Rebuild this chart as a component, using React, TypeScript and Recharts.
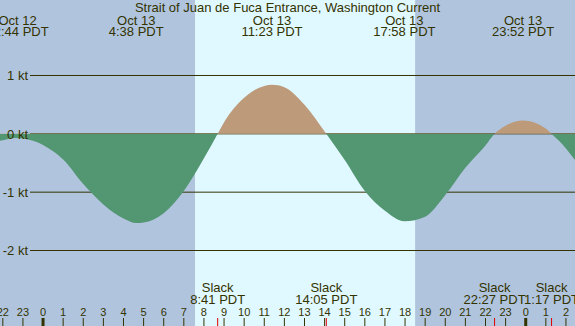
import {
  Area,
  ComposedChart,
  ReferenceArea,
  ReferenceLine,
  XAxis,
  YAxis,
} from "recharts";

const TITLE = "Strait of Juan de Fuca Entrance, Washington Current";

// hours since Oct 13 00:00 PDT, current speed in knots (flood +, ebb -)
const sampleHours = [
  -2.14, -2, -1.35, -1, -0.5, 0, 0.5, 1, 2, 3, 4, 4.633, 5, 6, 7, 8, 8.683, 9, 10, 11,
  11.383, 12, 13, 14.083, 15, 16, 17, 17.967, 19, 20, 21, 22, 22.45, 23, 23.867, 25,
  25.283, 26, 26.45,
];
const speedKt = [
  -0.12, -0.11, -0.07, -0.08, -0.12, -0.19, -0.3, -0.44, -0.86, -1.21, -1.45, -1.53,
  -1.52, -1.36, -0.98, -0.42, 0, 0.2, 0.62, 0.82, 0.84, 0.8, 0.5, 0, -0.45, -0.98, -1.32,
  -1.5, -1.42, -1.05, -0.58, -0.2, 0, 0.14, 0.23, 0.09, 0, -0.25, -0.45,
];

// max flood / max ebb events shown along the top
const eventDays = [12, 13, 13, 13, 13];
const eventTimes = ["22:44", "4:38", "11:23", "17:58", "23:52"];

// slack water events shown along the bottom
const slackDays = [13, 13, 13, 14];
const slackTimes = ["8:41", "14:05", "22:27", "1:17"];

const hourTicks = [
  -2, -1, 0, 1, 2, 3, 4, 5, 6, 7, 8, 9, 10, 11, 12, 13, 14, 15, 16, 17, 18, 19, 20, 21,
  22, 23, 24, 25, 26,
];
const ktTicks = [1, 0, -1, -2];

const sunrise = 7.56;
const sunset = 18.5;

const X_MIN = -2.14;
const X_MAX = 26.45;
const Y_MIN = -3.294;
const Y_MAX = 2.294;

const INK = "#333300";
const NIGHT = "#b0c4de";
const DAY = "#e0f8ff";
const FLOOD = "#bd9a7a";
const EBB = "#529672";
const FONT = "'Liberation Sans', Arial, sans-serif";

const toHour = (day: number, t: string) => {
  const [hh, mm] = t.split(":").map(Number);
  return (day - 13) * 24 + hh + mm / 60;
};

const eventHours = eventTimes.map((t, i) => toHour(eventDays[i], t));
const slackHours = slackTimes.map((t, i) => toHour(slackDays[i], t));

const data = sampleHours.map((h, i) => ({ h, v: speedKt[i] }));

const vMax = Math.max(...speedKt);
const vMin = Math.min(...speedKt);
const zeroOffset = vMax / (vMax - vMin);

function HourTick({ x, payload }: any) {
  const h = payload.value;
  const label = ((h % 24) + 24) % 24;
  const midnight = label === 0;
  return (
    <g>
      <text x={x} y={315.5} textAnchor="middle" fontSize={11} fontFamily={FONT} fill={INK}>
        {label}
      </text>
      <line x1={x} x2={x} y1={318} y2={326} stroke={INK} strokeWidth={midnight ? 3 : 1} />
    </g>
  );
}

function SlackTick({ x, payload }: any) {
  const i = slackHours.indexOf(payload.value);
  return (
    <g fontFamily={FONT} fontSize={13} fill={INK} textAnchor="middle">
      <text x={x} y={292}>Slack</text>
      <text x={x} y={304}>{slackTimes[i]} PDT</text>
      <line x1={x} x2={x} y1={318} y2={326} stroke="#e00000" strokeWidth={1} />
    </g>
  );
}

function EventTick({ x, payload }: any) {
  const i = eventHours.indexOf(payload.value);
  return (
    <g fontFamily={FONT} fontSize={13} fill={INK} textAnchor="middle">
      <text x={x} y={25}>Oct {eventDays[i]}</text>
      <text x={x} y={36}>{eventTimes[i]} PDT</text>
    </g>
  );
}

function KtTick({ y, payload }: any) {
  return (
    <text x={28} y={y} dy="0.36em" textAnchor="end" fontSize={13} fontFamily={FONT} fill={INK}>
      {payload.value} kt
    </text>
  );
}

const GridLine = (p: any) => (
  <line x1={p.x1 + 30} y1={p.y1} x2={p.x2} y2={p.y2} stroke={INK} strokeWidth={1} />
);

export default function App() {
  return (
    <div style={{ position: "absolute", left: 0, top: 0, width: 575, height: 326 }}>
      <ComposedChart
        width={575}
        height={326}
        data={data}
        margin={{ top: 0, right: 0, bottom: 0, left: 0 }}
      >
        <defs>
          <linearGradient id="flowFill" x1="0" y1="0" x2="0" y2="1">
            <stop offset={zeroOffset} stopColor={FLOOD} />
            <stop offset={zeroOffset} stopColor={EBB} />
          </linearGradient>
        </defs>
        <XAxis
          dataKey="h"
          type="number"
          domain={[X_MIN, X_MAX]}
          allowDataOverflow
          ticks={hourTicks}
          interval={0}
          mirror
          axisLine={false}
          tickLine={false}
          tick={<HourTick />}
        />
        <XAxis
          xAxisId="slack"
          dataKey="h"
          type="number"
          domain={[X_MIN, X_MAX]}
          allowDataOverflow
          ticks={slackHours}
          interval={0}
          mirror
          axisLine={false}
          tickLine={false}
          tick={<SlackTick />}
        />
        <XAxis
          xAxisId="top"
          orientation="top"
          dataKey="h"
          type="number"
          domain={[X_MIN, X_MAX]}
          allowDataOverflow
          ticks={eventHours}
          interval={0}
          mirror
          axisLine={false}
          tickLine={false}
          tick={<EventTick />}
        />
        <YAxis
          type="number"
          domain={[Y_MIN, Y_MAX]}
          allowDataOverflow
          ticks={ktTicks}
          interval={0}
          mirror
          axisLine={false}
          tickLine={false}
          tick={<KtTick />}
        />
        <ReferenceArea x1={X_MIN} x2={sunrise} fill={NIGHT} fillOpacity={1} stroke="none" zIndex={-300} />
        <ReferenceArea x1={sunrise} x2={sunset} fill={DAY} fillOpacity={1} stroke="none" zIndex={-300} />
        <ReferenceArea x1={sunset} x2={X_MAX} fill={NIGHT} fillOpacity={1} stroke="none" zIndex={-300} />
        {ktTicks.map((k) => (
          <ReferenceLine key={k} y={k} shape={GridLine} zIndex={-200} />
        ))}
        <Area
          type="monotone"
          dataKey="v"
          baseValue={0}
          stroke="none"
          fill="url(#flowFill)"
          fillOpacity={1}
          dot={false}
          activeDot={false}
          isAnimationActive={false}
        />
      </ComposedChart>
      <div
        style={{
          position: "absolute",
          left: 0,
          top: 1,
          width: 575,
          textAlign: "center",
          fontFamily: FONT,
          fontSize: 13,
          lineHeight: "13px",
          color: INK,
          whiteSpace: "nowrap",
        }}
      >
        {TITLE}
      </div>
    </div>
  );
}
